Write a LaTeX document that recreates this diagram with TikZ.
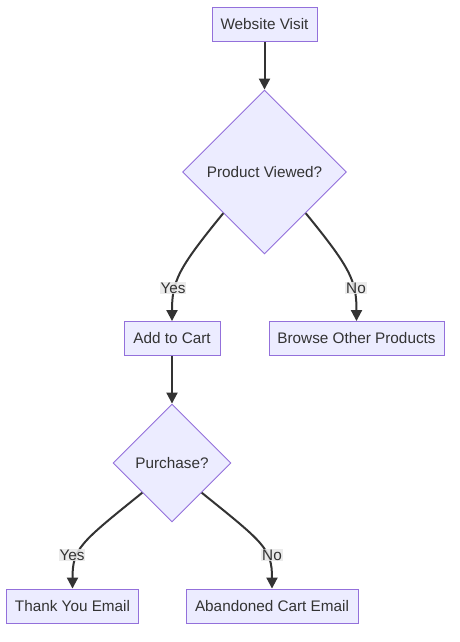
\documentclass[tikz,border=0pt]{standalone}
\usepackage{fontspec}
\setmainfont{Liberation Sans}
\usetikzlibrary{shapes.geometric,arrows.meta}
\definecolor{nodefill}{HTML}{ECECFF}
\definecolor{nodeline}{HTML}{9370DB}
\definecolor{txt}{HTML}{333333}
\definecolor{lblbg}{HTML}{E8E8E8}
\tikzset{
  box/.style={draw=nodeline, fill=nodefill, line width=0.9pt, text=txt, minimum height=34pt, inner xsep=8pt, font=\fontsize{15.3}{18}\selectfont},
  dia/.style={diamond, draw=nodeline, fill=nodefill, line width=0.9pt, text=txt, inner sep=0pt, font=\fontsize{15.3}{18}\selectfont},
  arr/.style={draw=txt, line width=2pt, -{Triangle[length=11pt,width=11pt]}},
  lbl/.style={fill=lblbg, fill opacity=0.85, text opacity=1, text=txt, inner sep=1pt, font=\fontsize{15.3}{18}\selectfont}
}
\begin{document}
\begin{tikzpicture}[x=1pt,y=-1pt]
\fill[white] (0,0) rectangle (460,642);
\useasboundingbox (0,0) rectangle (460,642);
\node[box, minimum width=105pt] (wv) at (264.5,24.5) {Website Visit};
\node[dia, minimum width=164pt, minimum height=164pt] (pv) at (264.5,172) {Product Viewed?};
\node[box, minimum width=96pt] (add) at (172,338.5) {Add to Cart};
\node[box, minimum width=175pt] (bop) at (356.5,338.5) {Browse Other Products};
\node[dia, minimum width=118pt, minimum height=118pt] (pu) at (172,463) {Purchase?};
\node[box, minimum width=131pt] (tye) at (72.5,606) {Thank You Email};
\node[box, minimum width=172pt] (ace) at (272,606) {Abandoned Cart Email};

\draw[arr] (wv.south) -- (pv.north);
\draw[arr] (add.south) -- (pu.north);
\draw[arr] (pv.south west) .. controls +(-45,55) and +(0,-40) .. (add.north);
\draw[arr] (pv.south east) .. controls +(45,55) and +(0,-40) .. (bop.north);
\draw[arr] (pu.south west) .. controls +(-62,50) and +(0,-40) .. (tye.north);
\draw[arr] (pu.south east) .. controls +(62,50) and +(0,-40) .. (ace.north);

\node[lbl] (l1) at (173,288) {Yes};
\node[lbl] (l2) at (356,288) {No};
\node[lbl] (l3) at (72,555) {Yes};
\node[lbl] (l4) at (272,555) {No};
\end{tikzpicture}
\end{document}
